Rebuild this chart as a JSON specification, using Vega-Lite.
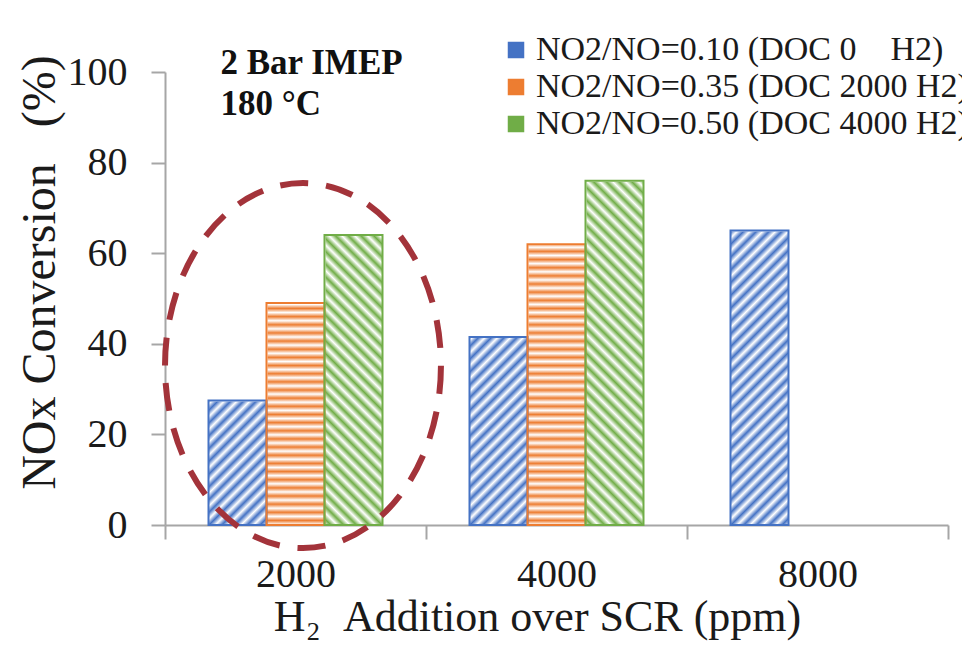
{
  "$schema": "https://vega.github.io/schema/vega-lite/v6.json",
  "autosize": {"type": "none"},
  "width": 783,
  "height": 453,
  "padding": {"left": 165, "top": 72, "right": 14, "bottom": 127},
  "background": "white",
  "config": {
    "font": "Liberation Serif",
    "view": {"stroke": null},
    "axis": {"grid": false, "domainColor": "#a6a6a6", "domainWidth": 2, "tickColor": "#a6a6a6", "tickWidth": 2, "labelFont": "Liberation Serif", "titleFont": "Liberation Serif", "labelColor": "#1a1a1a", "titleColor": "#1a1a1a", "titleFontWeight": "normal"},
    "axisX": {"tickBand": "extent", "labelAngle": 0, "tickSize": 14, "labelFontSize": 40, "labelPadding": 15, "titleFontSize": 44, "titlePadding": 1, "titleX": 372},
    "axisY": {"tickSize": 14, "labelFontSize": 40, "labelPadding": 24, "titleFontSize": 48, "titlePadding": 3, "titleY": 200}
  },
  "data": {"values": [
    {"h2": "2000", "series": "NO2/NO=0.10 (DOC 0\u00a0\u00a0\u00a0\u00a0H2)", "value": 27.5},
    {"h2": "2000", "series": "NO2/NO=0.35 (DOC 2000 H2)", "value": 49},
    {"h2": "2000", "series": "NO2/NO=0.50 (DOC 4000 H2)", "value": 64},
    {"h2": "4000", "series": "NO2/NO=0.10 (DOC 0\u00a0\u00a0\u00a0\u00a0H2)", "value": 41.5},
    {"h2": "4000", "series": "NO2/NO=0.35 (DOC 2000 H2)", "value": 62},
    {"h2": "4000", "series": "NO2/NO=0.50 (DOC 4000 H2)", "value": 76},
    {"h2": "8000", "series": "NO2/NO=0.10 (DOC 0\u00a0\u00a0\u00a0\u00a0H2)", "value": 65}
  ]},
  "layer": [
    {
      "encoding": {
        "x": {"field": "h2", "type": "nominal", "title": "H\u2082\u00a0\u00a0Addition over SCR (ppm)", "scale": {"domain": ["2000", "4000", "8000"], "paddingInner": 0, "paddingOuter": 0}},
        "xOffset": {"field": "series", "type": "nominal", "scale": {"domain": ["NO2/NO=0.10 (DOC 0\u00a0\u00a0\u00a0\u00a0H2)", "NO2/NO=0.35 (DOC 2000 H2)", "NO2/NO=0.50 (DOC 4000 H2)"], "paddingInner": 0, "paddingOuter": 0.75}}
      },
      "layer": [
        {
          "mark": {"type": "bar", "opacity": 0},
          "encoding": {
            "y": {"field": "value", "type": "quantitative", "title": "NOx Conversion\u00a0\u00a0\u00a0(%)"},
            "fill": {"field": "series", "type": "nominal", "scale": {"domain": ["NO2/NO=0.10 (DOC 0\u00a0\u00a0\u00a0\u00a0H2)", "NO2/NO=0.35 (DOC 2000 H2)", "NO2/NO=0.50 (DOC 4000 H2)"], "range": ["#4472c4", "#ed7d31", "#70ad47"]},
              "legend": {"orient": "none", "legendX": 334, "legendY": -39, "title": null, "symbolType": "square", "symbolSize": 225, "symbolOpacity": 1, "labelFont": "Liberation Serif", "labelFontSize": 34, "labelColor": "#1a1a1a", "labelLimit": 1000, "labelOffset": 3, "rowPadding": 3, "padding": 0}}
          }
        },
        {
          "transform": [{"filter": "indexof(datum.series, '=0.10') >= 0"}],
          "mark": {"type": "bar", "fill": {"gradient": "linear", "x1": 0, "y1": 0, "x2": 0.1421, "y2": 1.1098, "stops": [
            {"offset": 0, "color": "#fff"}, {"offset": 0.0125, "color": "#4472c4"}, {"offset": 0.025, "color": "#fff"}, {"offset": 0.0375, "color": "#4472c4"}, {"offset": 0.05, "color": "#fff"}, {"offset": 0.0625, "color": "#4472c4"}, {"offset": 0.075, "color": "#fff"}, {"offset": 0.0875, "color": "#4472c4"}, {"offset": 0.1, "color": "#fff"}, {"offset": 0.1125, "color": "#4472c4"}, {"offset": 0.125, "color": "#fff"}, {"offset": 0.1375, "color": "#4472c4"}, {"offset": 0.15, "color": "#fff"}, {"offset": 0.1625, "color": "#4472c4"}, {"offset": 0.175, "color": "#fff"}, {"offset": 0.1875, "color": "#4472c4"}, {"offset": 0.2, "color": "#fff"}, {"offset": 0.2125, "color": "#4472c4"}, {"offset": 0.225, "color": "#fff"}, {"offset": 0.2375, "color": "#4472c4"}, {"offset": 0.25, "color": "#fff"}, {"offset": 0.2625, "color": "#4472c4"}, {"offset": 0.275, "color": "#fff"}, {"offset": 0.2875, "color": "#4472c4"}, {"offset": 0.3, "color": "#fff"}, {"offset": 0.3125, "color": "#4472c4"}, {"offset": 0.325, "color": "#fff"}, {"offset": 0.3375, "color": "#4472c4"}, {"offset": 0.35, "color": "#fff"}, {"offset": 0.3625, "color": "#4472c4"}, {"offset": 0.375, "color": "#fff"}, {"offset": 0.3875, "color": "#4472c4"}, {"offset": 0.4, "color": "#fff"}, {"offset": 0.4125, "color": "#4472c4"}, {"offset": 0.425, "color": "#fff"}, {"offset": 0.4375, "color": "#4472c4"}, {"offset": 0.45, "color": "#fff"}, {"offset": 0.4625, "color": "#4472c4"}, {"offset": 0.475, "color": "#fff"}, {"offset": 0.4875, "color": "#4472c4"}, {"offset": 0.5, "color": "#fff"}, {"offset": 0.5125, "color": "#4472c4"}, {"offset": 0.525, "color": "#fff"}, {"offset": 0.5375, "color": "#4472c4"}, {"offset": 0.55, "color": "#fff"}, {"offset": 0.5625, "color": "#4472c4"}, {"offset": 0.575, "color": "#fff"}, {"offset": 0.5875, "color": "#4472c4"}, {"offset": 0.6, "color": "#fff"}, {"offset": 0.6125, "color": "#4472c4"}, {"offset": 0.625, "color": "#fff"}, {"offset": 0.6375, "color": "#4472c4"}, {"offset": 0.65, "color": "#fff"}, {"offset": 0.6625, "color": "#4472c4"}, {"offset": 0.675, "color": "#fff"}, {"offset": 0.6875, "color": "#4472c4"}, {"offset": 0.7, "color": "#fff"}, {"offset": 0.7125, "color": "#4472c4"}, {"offset": 0.725, "color": "#fff"}, {"offset": 0.7375, "color": "#4472c4"}, {"offset": 0.75, "color": "#fff"}, {"offset": 0.7625, "color": "#4472c4"}, {"offset": 0.775, "color": "#fff"}, {"offset": 0.7875, "color": "#4472c4"}, {"offset": 0.8, "color": "#fff"}, {"offset": 0.8125, "color": "#4472c4"}, {"offset": 0.825, "color": "#fff"}, {"offset": 0.8375, "color": "#4472c4"}, {"offset": 0.85, "color": "#fff"}, {"offset": 0.8625, "color": "#4472c4"}, {"offset": 0.875, "color": "#fff"}, {"offset": 0.8875, "color": "#4472c4"}, {"offset": 0.9, "color": "#fff"}, {"offset": 0.9125, "color": "#4472c4"}, {"offset": 0.925, "color": "#fff"}, {"offset": 0.9375, "color": "#4472c4"}, {"offset": 0.95, "color": "#fff"}, {"offset": 0.9625, "color": "#4472c4"}, {"offset": 0.975, "color": "#fff"}, {"offset": 0.9875, "color": "#4472c4"}, {"offset": 1, "color": "#fff"}
          ]}},
          "encoding": {
            "y": {"datum": 0, "type": "quantitative", "title": "NOx Conversion\u00a0\u00a0\u00a0(%)"},
            "y2": {"datum": 100}
          }
        },
        {
          "transform": [{"filter": "indexof(datum.series, '=0.35') >= 0"}],
          "mark": {"type": "bar", "fill": {"gradient": "linear", "x1": 0, "y1": 0, "x2": 0, "y2": 1, "stops": [
            {"offset": 0, "color": "#ed7d31"}, {"offset": 0.009, "color": "#fff"}, {"offset": 0.018, "color": "#ed7d31"}, {"offset": 0.027, "color": "#fff"}, {"offset": 0.036, "color": "#ed7d31"}, {"offset": 0.045, "color": "#fff"}, {"offset": 0.054, "color": "#ed7d31"}, {"offset": 0.063, "color": "#fff"}, {"offset": 0.072, "color": "#ed7d31"}, {"offset": 0.081, "color": "#fff"}, {"offset": 0.09, "color": "#ed7d31"}, {"offset": 0.099, "color": "#fff"}, {"offset": 0.108, "color": "#ed7d31"}, {"offset": 0.117, "color": "#fff"}, {"offset": 0.126, "color": "#ed7d31"}, {"offset": 0.135, "color": "#fff"}, {"offset": 0.144, "color": "#ed7d31"}, {"offset": 0.153, "color": "#fff"}, {"offset": 0.162, "color": "#ed7d31"}, {"offset": 0.171, "color": "#fff"}, {"offset": 0.18, "color": "#ed7d31"}, {"offset": 0.189, "color": "#fff"}, {"offset": 0.198, "color": "#ed7d31"}, {"offset": 0.207, "color": "#fff"}, {"offset": 0.216, "color": "#ed7d31"}, {"offset": 0.225, "color": "#fff"}, {"offset": 0.234, "color": "#ed7d31"}, {"offset": 0.243, "color": "#fff"}, {"offset": 0.252, "color": "#ed7d31"}, {"offset": 0.261, "color": "#fff"}, {"offset": 0.27, "color": "#ed7d31"}, {"offset": 0.279, "color": "#fff"}, {"offset": 0.288, "color": "#ed7d31"}, {"offset": 0.297, "color": "#fff"}, {"offset": 0.306, "color": "#ed7d31"}, {"offset": 0.315, "color": "#fff"}, {"offset": 0.324, "color": "#ed7d31"}, {"offset": 0.333, "color": "#fff"}, {"offset": 0.342, "color": "#ed7d31"}, {"offset": 0.351, "color": "#fff"}, {"offset": 0.36, "color": "#ed7d31"}, {"offset": 0.369, "color": "#fff"}, {"offset": 0.378, "color": "#ed7d31"}, {"offset": 0.387, "color": "#fff"}, {"offset": 0.396, "color": "#ed7d31"}, {"offset": 0.405, "color": "#fff"}, {"offset": 0.414, "color": "#ed7d31"}, {"offset": 0.423, "color": "#fff"}, {"offset": 0.432, "color": "#ed7d31"}, {"offset": 0.441, "color": "#fff"}, {"offset": 0.45, "color": "#ed7d31"}, {"offset": 0.459, "color": "#fff"}, {"offset": 0.468, "color": "#ed7d31"}, {"offset": 0.477, "color": "#fff"}, {"offset": 0.486, "color": "#ed7d31"}, {"offset": 0.495, "color": "#fff"}, {"offset": 0.504, "color": "#ed7d31"}, {"offset": 0.513, "color": "#fff"}, {"offset": 0.522, "color": "#ed7d31"}, {"offset": 0.531, "color": "#fff"}, {"offset": 0.54, "color": "#ed7d31"}, {"offset": 0.549, "color": "#fff"}, {"offset": 0.558, "color": "#ed7d31"}, {"offset": 0.567, "color": "#fff"}, {"offset": 0.576, "color": "#ed7d31"}, {"offset": 0.585, "color": "#fff"}, {"offset": 0.594, "color": "#ed7d31"}, {"offset": 0.603, "color": "#fff"}, {"offset": 0.612, "color": "#ed7d31"}, {"offset": 0.621, "color": "#fff"}, {"offset": 0.63, "color": "#ed7d31"}, {"offset": 0.639, "color": "#fff"}, {"offset": 0.648, "color": "#ed7d31"}, {"offset": 0.657, "color": "#fff"}, {"offset": 0.666, "color": "#ed7d31"}, {"offset": 0.675, "color": "#fff"}, {"offset": 0.684, "color": "#ed7d31"}, {"offset": 0.693, "color": "#fff"}, {"offset": 0.702, "color": "#ed7d31"}, {"offset": 0.711, "color": "#fff"}, {"offset": 0.72, "color": "#ed7d31"}, {"offset": 0.729, "color": "#fff"}, {"offset": 0.738, "color": "#ed7d31"}, {"offset": 0.747, "color": "#fff"}, {"offset": 0.756, "color": "#ed7d31"}, {"offset": 0.765, "color": "#fff"}, {"offset": 0.774, "color": "#ed7d31"}, {"offset": 0.783, "color": "#fff"}, {"offset": 0.792, "color": "#ed7d31"}, {"offset": 0.801, "color": "#fff"}, {"offset": 0.81, "color": "#ed7d31"}, {"offset": 0.819, "color": "#fff"}, {"offset": 0.828, "color": "#ed7d31"}, {"offset": 0.837, "color": "#fff"}, {"offset": 0.846, "color": "#ed7d31"}, {"offset": 0.855, "color": "#fff"}, {"offset": 0.864, "color": "#ed7d31"}, {"offset": 0.873, "color": "#fff"}, {"offset": 0.882, "color": "#ed7d31"}, {"offset": 0.891, "color": "#fff"}, {"offset": 0.9, "color": "#ed7d31"}, {"offset": 0.909, "color": "#fff"}, {"offset": 0.918, "color": "#ed7d31"}, {"offset": 0.927, "color": "#fff"}, {"offset": 0.936, "color": "#ed7d31"}, {"offset": 0.945, "color": "#fff"}, {"offset": 0.954, "color": "#ed7d31"}, {"offset": 0.963, "color": "#fff"}, {"offset": 0.972, "color": "#ed7d31"}, {"offset": 0.981, "color": "#fff"}, {"offset": 0.99, "color": "#ed7d31"}, {"offset": 0.999, "color": "#fff"}
          ]}},
          "encoding": {
            "y": {"datum": 0, "type": "quantitative", "title": "NOx Conversion\u00a0\u00a0\u00a0(%)"},
            "y2": {"datum": 100}
          }
        },
        {
          "transform": [{"filter": "indexof(datum.series, '=0.50') >= 0"}],
          "mark": {"type": "bar", "fill": {"gradient": "linear", "x1": 0, "y1": 1, "x2": 0.1421, "y2": -0.1098, "stops": [
            {"offset": 0, "color": "#fff"}, {"offset": 0.0125, "color": "#70ad47"}, {"offset": 0.025, "color": "#fff"}, {"offset": 0.0375, "color": "#70ad47"}, {"offset": 0.05, "color": "#fff"}, {"offset": 0.0625, "color": "#70ad47"}, {"offset": 0.075, "color": "#fff"}, {"offset": 0.0875, "color": "#70ad47"}, {"offset": 0.1, "color": "#fff"}, {"offset": 0.1125, "color": "#70ad47"}, {"offset": 0.125, "color": "#fff"}, {"offset": 0.1375, "color": "#70ad47"}, {"offset": 0.15, "color": "#fff"}, {"offset": 0.1625, "color": "#70ad47"}, {"offset": 0.175, "color": "#fff"}, {"offset": 0.1875, "color": "#70ad47"}, {"offset": 0.2, "color": "#fff"}, {"offset": 0.2125, "color": "#70ad47"}, {"offset": 0.225, "color": "#fff"}, {"offset": 0.2375, "color": "#70ad47"}, {"offset": 0.25, "color": "#fff"}, {"offset": 0.2625, "color": "#70ad47"}, {"offset": 0.275, "color": "#fff"}, {"offset": 0.2875, "color": "#70ad47"}, {"offset": 0.3, "color": "#fff"}, {"offset": 0.3125, "color": "#70ad47"}, {"offset": 0.325, "color": "#fff"}, {"offset": 0.3375, "color": "#70ad47"}, {"offset": 0.35, "color": "#fff"}, {"offset": 0.3625, "color": "#70ad47"}, {"offset": 0.375, "color": "#fff"}, {"offset": 0.3875, "color": "#70ad47"}, {"offset": 0.4, "color": "#fff"}, {"offset": 0.4125, "color": "#70ad47"}, {"offset": 0.425, "color": "#fff"}, {"offset": 0.4375, "color": "#70ad47"}, {"offset": 0.45, "color": "#fff"}, {"offset": 0.4625, "color": "#70ad47"}, {"offset": 0.475, "color": "#fff"}, {"offset": 0.4875, "color": "#70ad47"}, {"offset": 0.5, "color": "#fff"}, {"offset": 0.5125, "color": "#70ad47"}, {"offset": 0.525, "color": "#fff"}, {"offset": 0.5375, "color": "#70ad47"}, {"offset": 0.55, "color": "#fff"}, {"offset": 0.5625, "color": "#70ad47"}, {"offset": 0.575, "color": "#fff"}, {"offset": 0.5875, "color": "#70ad47"}, {"offset": 0.6, "color": "#fff"}, {"offset": 0.6125, "color": "#70ad47"}, {"offset": 0.625, "color": "#fff"}, {"offset": 0.6375, "color": "#70ad47"}, {"offset": 0.65, "color": "#fff"}, {"offset": 0.6625, "color": "#70ad47"}, {"offset": 0.675, "color": "#fff"}, {"offset": 0.6875, "color": "#70ad47"}, {"offset": 0.7, "color": "#fff"}, {"offset": 0.7125, "color": "#70ad47"}, {"offset": 0.725, "color": "#fff"}, {"offset": 0.7375, "color": "#70ad47"}, {"offset": 0.75, "color": "#fff"}, {"offset": 0.7625, "color": "#70ad47"}, {"offset": 0.775, "color": "#fff"}, {"offset": 0.7875, "color": "#70ad47"}, {"offset": 0.8, "color": "#fff"}, {"offset": 0.8125, "color": "#70ad47"}, {"offset": 0.825, "color": "#fff"}, {"offset": 0.8375, "color": "#70ad47"}, {"offset": 0.85, "color": "#fff"}, {"offset": 0.8625, "color": "#70ad47"}, {"offset": 0.875, "color": "#fff"}, {"offset": 0.8875, "color": "#70ad47"}, {"offset": 0.9, "color": "#fff"}, {"offset": 0.9125, "color": "#70ad47"}, {"offset": 0.925, "color": "#fff"}, {"offset": 0.9375, "color": "#70ad47"}, {"offset": 0.95, "color": "#fff"}, {"offset": 0.9625, "color": "#70ad47"}, {"offset": 0.975, "color": "#fff"}, {"offset": 0.9875, "color": "#70ad47"}, {"offset": 1, "color": "#fff"}
          ]}},
          "encoding": {
            "y": {"datum": 0, "type": "quantitative", "title": "NOx Conversion\u00a0\u00a0\u00a0(%)"},
            "y2": {"datum": 100}
          }
        },
        {
          "mark": {"type": "bar", "fill": "white", "stroke": "white", "strokeWidth": 2},
          "encoding": {
            "y": {"field": "value", "type": "quantitative", "title": "NOx Conversion\u00a0\u00a0\u00a0(%)"},
            "y2": {"datum": 100}
          }
        },
        {
          "mark": {"type": "bar", "fill": "transparent", "strokeWidth": 2},
          "encoding": {
            "y": {"field": "value", "type": "quantitative", "title": "NOx Conversion\u00a0\u00a0\u00a0(%)", "scale": {"domain": [0, 100], "nice": false}, "axis": {"values": [0, 20, 40, 60, 80, 100]}},
            "stroke": {"field": "series", "type": "nominal", "scale": {"domain": ["NO2/NO=0.10 (DOC 0\u00a0\u00a0\u00a0\u00a0H2)", "NO2/NO=0.35 (DOC 2000 H2)", "NO2/NO=0.50 (DOC 4000 H2)"], "range": ["#4472c4", "#ed7d31", "#70ad47"]}, "legend": null}
          }
        }
      ]
    },
    {
      "data": {"values": [{}]},
      "mark": {"type": "point", "shape": "M -0.715 0 A 0.756 1 0 1 1 0.797 0 A 0.756 1 0 1 1 -0.715 0 Z", "size": 133225, "filled": false, "stroke": "#a3333a", "strokeWidth": 6, "strokeDash": [28, 18], "opacity": 1},
      "encoding": {"x": {"datum": "2000"}, "y": {"datum": 35.2}}
    },
    {
      "data": {"values": [{}]},
      "mark": {"type": "text", "text": ["2 Bar IMEP", "180 \u00b0C"], "font": "Liberation Serif", "fontSize": 35, "fontWeight": "bold", "align": "left", "baseline": "alphabetic", "lineHeight": 41, "dx": -75, "color": "#111"},
      "encoding": {"x": {"datum": "2000"}, "y": {"datum": 99.5}}
    }
  ]
}
